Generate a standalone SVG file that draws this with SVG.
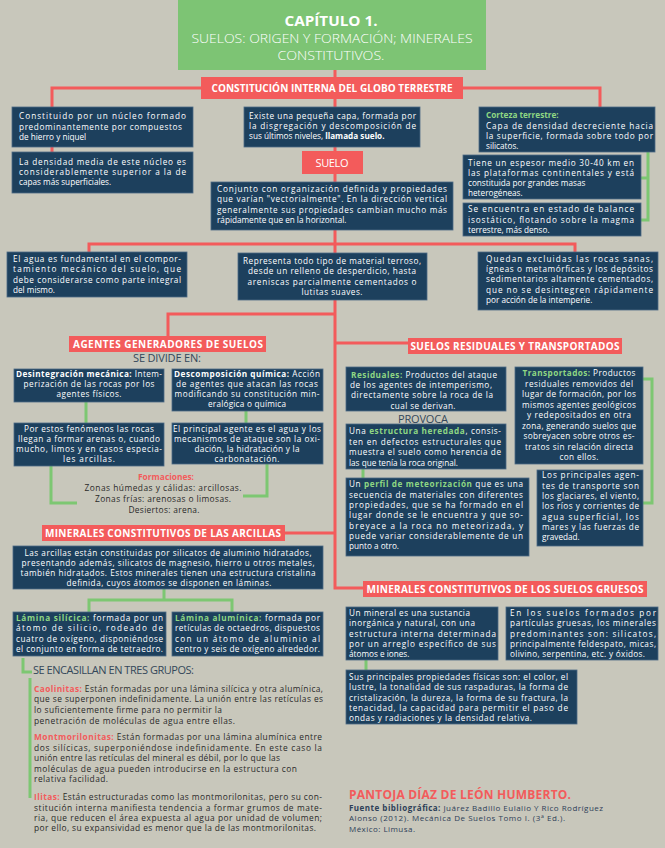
<svg xmlns="http://www.w3.org/2000/svg" width="665" height="848" viewBox="0 0 665 848">
<style>
.nb{fill:#1d405d;stroke:#4d6a85;stroke-width:0.8}
.rb{fill:#f35b5b}
.rl{fill:none;stroke:#f35b5b;stroke-width:3}
.gl{fill:none;stroke:#7dc772;stroke-width:3}
text{font-family:"Open Sans","Noto Sans","Liberation Sans",sans-serif}
.t{font-size:8.2px;fill:#ffffff}
.c{text-anchor:middle}
.b{font-weight:700}
.g{font-weight:700;fill:#8fd783}
.h{font-size:10px;font-weight:700;fill:#ffffff;text-anchor:middle}
.sub{font-size:11px;fill:#34475a;text-anchor:middle}
.dk{font-size:8.4px;fill:#2a2a2a}
.rd{font-weight:700;fill:#f35b5b}
.tt{fill:#ffffff;text-anchor:middle}
</style>
<rect x="0" y="0" width="665" height="848" fill="#c8c7bb"/>

<g id="connectors">
<path class="rl" d="M335,70 V588 H363"/>
<path class="rl" d="M52,152 V88 H600 V108"/>
<path class="rl" d="M89,252 V244 H575 V252"/>
<path class="rl" d="M168,336 V314 H335"/>
<path class="rl" d="M335,343 H408"/>
<path class="rl" d="M285,533 H335"/>
<path class="gl" d="M641,178 H648 M648,152 V220 H641"/>
<path class="gl" d="M86,402 V423"/>
<path class="gl" d="M246,411 V423"/>
<path class="gl" d="M51,466 V503 H77"/>
<path class="gl" d="M267,464 V496 H243"/>
<path class="gl" d="M164,589 V600 M89,612 V600 H232 V612"/>
<path class="gl" d="M23,658 V672 H32"/>
<path class="gl" d="M30,678 V798"/>
<path class="gl" d="M363,469 V478"/>
<path class="gl" d="M643,379 H652 V503 H643"/>
<path class="gl" d="M366,660 V670"/>
</g>

<g id="title">
<rect x="178" y="0" width="308" height="70" fill="#7dc474"/>
<text class="tt" x="331" y="26" font-size="14" font-weight="700" textLength="93" lengthAdjust="spacingAndGlyphs">CAPÍTULO 1.</text>
<text class="tt" x="332" y="43" font-size="12.5" font-weight="300" textLength="281" lengthAdjust="spacingAndGlyphs">SUELOS: ORIGEN Y FORMACIÓN; MINERALES</text>
<text class="tt" x="331" y="60" font-size="12.5" font-weight="300" textLength="107" lengthAdjust="spacingAndGlyphs">CONSTITUTIVOS.</text>
</g>

<g id="constitucion">
<rect class="rb" x="201" y="77" width="262" height="22"/>
<text class="h" x="332" y="92" textLength="241">CONSTITUCIÓN INTERNA DEL GLOBO TERRESTRE</text>
</g>

<g id="nucleo1">
<rect class="nb" x="12" y="107" width="181" height="40"/>
<text class="t" x="19" y="119" textLength="167">Constituido por un núcleo formado</text>
<text class="t" x="19" y="130" textLength="163">predominantemente por compuestos</text>
<text class="t" x="19" y="140">de hierro y niquel</text>
</g>
<g id="nucleo2">
<rect class="nb" x="12" y="152" width="181" height="41"/>
<text class="t" x="19" y="165" textLength="167">La densidad media de este núcleo es</text>
<text class="t" x="19" y="175" textLength="167">considerablemente superior a la de</text>
<text class="t" x="19" y="185">capas más superficiales.</text>
</g>

<g id="capa">
<rect class="nb" x="244" y="107" width="176" height="40"/>
<text class="t" x="249" y="119" textLength="167">Existe una pequeña capa, formada por</text>
<text class="t" x="249" y="129" textLength="167">la disgregación y descomposición de</text>
<text class="t" x="249" y="139">sus últimos niveles, <tspan class="b">llamada suelo.</tspan></text>
</g>

<g id="suelo">
<rect class="rb" x="302" y="151" width="61" height="23"/>
<text x="332" y="167" text-anchor="middle" font-size="11" fill="#fff" textLength="33">SUELO</text>
</g>

<g id="conjunto">
<rect class="nb" x="211" y="182" width="242" height="48"/>
<text class="t" x="217" y="192" textLength="230">Conjunto con organización definida y propiedades</text>
<text class="t" x="217" y="202" textLength="230">que varían "vectorialmente". En la dirección vertical</text>
<text class="t" x="217" y="213" textLength="230">generalmente sus propiedades cambian mucho más</text>
<text class="t" x="217" y="223">rápidamente que en la horizontal.</text>
</g>

<g id="corteza">
<rect class="nb" x="479" y="107" width="176" height="45"/>
<text class="t g" x="486" y="118">Corteza terrestre:</text>
<text class="t" x="486" y="129" textLength="167">Capa de densidad decreciente hacia</text>
<text class="t" x="486" y="139" textLength="167">la superficie, formada sobre todo por</text>
<text class="t" x="486" y="149">silicatos.</text>
</g>
<g id="espesor">
<rect class="nb" x="463" y="155" width="178" height="44"/>
<text class="t" x="468" y="166" textLength="166">Tiene un espesor medio 30-40 km en</text>
<text class="t" x="468" y="176" textLength="166">las plataformas continentales y está</text>
<text class="t" x="468" y="186">constituida por grandes masas</text>
<text class="t" x="468" y="196">heterogéneas.</text>
</g>
<g id="balance">
<rect class="nb" x="463" y="203" width="178" height="33"/>
<text class="t" x="468" y="212" textLength="166">Se encuentra en estado de balance</text>
<text class="t" x="468" y="223" textLength="166">isostático, flotando sobre la magma</text>
<text class="t" x="468" y="233">terrestre, más denso.</text>
</g>

<g id="agua">
<rect class="nb" x="7" y="252" width="180" height="45"/>
<text class="t" x="13" y="262" textLength="168">El agua es fundamental en el compor-</text>
<text class="t" x="13" y="272" textLength="168">tamiento mecánico del suelo, que</text>
<text class="t" x="13" y="283" textLength="168">debe considerarse como parte integral</text>
<text class="t" x="13" y="293">del mismo.</text>
</g>
<g id="representa">
<rect class="nb" x="238" y="253" width="189" height="47"/>
<text class="t c" x="332" y="264" textLength="178">Representa todo tipo de material terroso,</text>
<text class="t c" x="332" y="274" textLength="168">desde un relleno de desperdicio, hasta</text>
<text class="t c" x="332" y="285" textLength="169">areniscas parcialmente cementados o</text>
<text class="t c" x="332" y="295" textLength="61">lutitas suaves.</text>
</g>
<g id="excluidas">
<rect class="nb" x="478" y="252" width="180" height="58"/>
<text class="t" x="486" y="262" textLength="167">Quedan excluidas las rocas sanas,</text>
<text class="t" x="486" y="272" textLength="167">ígneas o metamórficas y los depósitos</text>
<text class="t" x="486" y="282" textLength="167">sedimentarios altamente cementados,</text>
<text class="t" x="486" y="293" textLength="167">que no se desintegren rápidamente</text>
<text class="t" x="486" y="303">por acción de la intemperie.</text>
</g>

<g id="agentes">
<rect class="rb" x="69" y="336" width="197" height="16"/>
<text class="h" x="168" y="348" textLength="190">AGENTES GENERADORES DE SUELOS</text>
<text class="sub" x="167" y="362" textLength="68">SE DIVIDE EN:</text>
</g>
<g id="desintegracion">
<rect class="nb" x="14" y="369" width="150" height="33"/>
<text class="t c" x="89" y="377" textLength="146"><tspan class="b">Desintegración mecánica:</tspan> Intem-</text>
<text class="t c" x="89" y="387" textLength="131">perización de las rocas por los</text>
<text class="t c" x="89" y="397" textLength="65">agentes físicos.</text>
</g>
<g id="descomposicion">
<rect class="nb" x="172" y="369" width="151" height="42"/>
<text class="t c" x="247" y="377" textLength="146"><tspan class="b">Descomposición química:</tspan> Acción</text>
<text class="t c" x="247" y="387" textLength="142">de agentes que atacan las rocas</text>
<text class="t c" x="247" y="397" textLength="145">modificando su constitución min-</text>
<text class="t c" x="247" y="407" textLength="78">eralógica o química</text>
</g>
<g id="fenomenos">
<rect class="nb" x="14" y="423" width="150" height="43"/>
<text class="t c" x="89" y="432" textLength="130">Por estos fenómenos las rocas</text>
<text class="t c" x="89" y="442" textLength="142">llegan a formar arenas o, cuando</text>
<text class="t c" x="89" y="452" textLength="146">mucho, limos y en casos especia-</text>
<text class="t c" x="89" y="462" textLength="52">les arcillas.</text>
</g>
<g id="principal">
<rect class="nb" x="172" y="423" width="151" height="41"/>
<text class="t c" x="247" y="432" textLength="148">El principal agente es el agua y los</text>
<text class="t c" x="247" y="442" textLength="146">mecanismos de ataque son la oxi-</text>
<text class="t c" x="247" y="452" textLength="105">dación, la hidratación y la</text>
<text class="t c" x="247" y="462" textLength="65">carbonatación.</text>
</g>
<g id="formaciones">
<text class="dk rd" x="166" y="480" text-anchor="middle" textLength="56">Formaciones:</text>
<text class="dk" x="163" y="491" text-anchor="middle" textLength="157">Zonas húmedas y cálidas: arcillosas.</text>
<text class="dk" x="163" y="502" text-anchor="middle" textLength="136">Zonas frías: arenosas o limosas.</text>
<text class="dk" x="164" y="513" text-anchor="middle" textLength="71">Desiertos: arena.</text>
</g>

<g id="arcillas">
<rect class="rb" x="42" y="525" width="243" height="16"/>
<text class="h" x="163" y="537" textLength="236">MINERALES CONSTITUTIVOS DE LAS ARCILLAS</text>
</g>
<g id="arcillas-desc">
<rect class="nb" x="13" y="546" width="310" height="43"/>
<text class="t c" x="168" y="556" textLength="287">Las arcillas están constituidas por silicatos de aluminio hidratados,</text>
<text class="t c" x="168" y="566" textLength="293">presentando además, silicatos de magnesio, hierro u otros metales,</text>
<text class="t c" x="168" y="576" textLength="295">también hidratados. Estos minerales tienen una estructura cristalina</text>
<text class="t c" x="169" y="586" textLength="205">definida, cuyos átomos se disponen en láminas.</text>
</g>
<g id="silicica">
<rect class="nb" x="13" y="612" width="153" height="44"/>
<text class="t" x="16" y="621" textLength="147"><tspan class="g">Lámina silícica:</tspan> formada por un</text>
<text class="t" x="16" y="631" textLength="147">átomo de silicio, rodeado de</text>
<text class="t" x="16" y="642" textLength="147">cuatro de oxígeno, disponiéndose</text>
<text class="t" x="16" y="652" textLength="147">el conjunto en forma de tetraedro.</text>
</g>
<g id="aluminica">
<rect class="nb" x="172" y="612" width="151" height="44"/>
<text class="t" x="175" y="621" textLength="145"><tspan class="g">Lámina alumínica:</tspan> formada por</text>
<text class="t" x="175" y="631" textLength="145">retículas de octaedros, dispuestos</text>
<text class="t" x="175" y="642" textLength="145">con un átomo de aluminio al</text>
<text class="t" x="175" y="652" textLength="145">centro y seis de oxígeno alrededor.</text>
</g>
<g id="grupos">
<text class="sub" x="33" y="674" style="text-anchor:start" textLength="161">SE ENCASILLAN EN TRES GRUPOS:</text>
</g>
<g id="caolinitas">
<text class="dk" x="34" y="692" textLength="289"><tspan class="rd">Caolinitas:</tspan> Están formadas por una lámina silícica y otra alumínica,</text>
<text class="dk" x="34" y="702" textLength="289">que se superponen indefinidamente. La unión entre las retículas es</text>
<text class="dk" x="34" y="713" textLength="188">lo suficientemente firme para no permitir la</text>
<text class="dk" x="34" y="724" textLength="201">penetración de moléculas de agua entre ellas.</text>
</g>
<g id="montmorilonitas">
<text class="dk" x="34" y="740" textLength="288"><tspan class="rd">Montmorilonitas:</tspan> Están formadas por una lámina alumínica entre</text>
<text class="dk" x="34" y="751" textLength="288">dos silícicas, superponiéndose indefinidamente. En este caso la</text>
<text class="dk" x="34" y="761" textLength="246">unión entre las retículas del mineral es débil, por lo que las</text>
<text class="dk" x="34" y="772" textLength="263">moléculas de agua pueden introducirse en la estructura con</text>
<text class="dk" x="34" y="782" textLength="74">relativa facilidad.</text>
</g>
<g id="ilitas">
<text class="dk" x="34" y="800" textLength="288"><tspan class="rd">Ilitas:</tspan> Están estructuradas como las montmorilonitas, pero su con-</text>
<text class="dk" x="34" y="811" textLength="288">stitución interna manifiesta tendencia a formar grumos de mate-</text>
<text class="dk" x="34" y="821" textLength="288">ria, que reducen el área expuesta al agua por unidad de volumen;</text>
<text class="dk" x="34" y="831" textLength="282">por ello, su expansividad es menor que la de las montmorilonitas.</text>
</g>

<g id="residuales-header">
<rect class="rb" x="408" y="338" width="214" height="16"/>
<text class="h" x="515" y="350" textLength="209">SUELOS RESIDUALES Y TRANSPORTADOS</text>
</g>
<g id="residuales">
<rect class="nb" x="346" y="367" width="160" height="44"/>
<text class="t c" x="424" y="378" textLength="146"><tspan class="g">Residuales:</tspan> Productos del ataque</text>
<text class="t c" x="421" y="388" textLength="142">de los agentes de intemperismo,</text>
<text class="t c" x="422" y="398" textLength="142">directamente sobre la roca de la</text>
<text class="t c" x="423" y="409" textLength="65">cual se derivan.</text>
</g>
<text class="sub" x="423" y="423" textLength="50">PROVOCA</text>
<g id="heredada">
<rect class="nb" x="346" y="424" width="160" height="45"/>
<text class="t" x="349" y="434" textLength="152">Una <tspan class="g">estructura heredada</tspan>, consis-</text>
<text class="t" x="349" y="445" textLength="152">ten en defectos estructurales que</text>
<text class="t" x="349" y="455" textLength="152">muestra el suelo como herencia de</text>
<text class="t" x="349" y="466">las que tenía la roca original.</text>
</g>
<g id="perfil">
<rect class="nb" x="346" y="478" width="183" height="78"/>
<text class="t" x="349" y="487" textLength="174">Un <tspan class="g">perfil de meteorización</tspan> que es una</text>
<text class="t" x="349" y="497.5" textLength="174">secuencia de materiales con diferentes</text>
<text class="t" x="349" y="508" textLength="174">propiedades, que se ha formado en el</text>
<text class="t" x="349" y="518" textLength="174">lugar donde se le encuentra y que so-</text>
<text class="t" x="349" y="528.5" textLength="174">breyace a la roca no meteorizada, y</text>
<text class="t" x="349" y="539" textLength="174">puede variar considerablemente de un</text>
<text class="t" x="349" y="549">punto a otro.</text>
</g>
<g id="transportados">
<rect class="nb" x="515" y="367" width="128" height="97"/>
<text class="t c" x="579" y="376" textLength="113"><tspan class="g">Transportados:</tspan> Productos</text>
<text class="t c" x="579" y="386.5" textLength="108">residuales removidos del</text>
<text class="t c" x="579" y="397" textLength="114">lugar de formación, por los</text>
<text class="t c" x="579" y="407.5" textLength="114">mismos agentes geológicos</text>
<text class="t c" x="579" y="418" textLength="104">y redepositados en otra</text>
<text class="t c" x="579" y="428.5" textLength="114">zona, generando suelos que</text>
<text class="t c" x="579" y="439" textLength="111">sobreyacen sobre otros es-</text>
<text class="t c" x="579" y="449.5" textLength="108">tratos sin relación directa</text>
<text class="t c" x="579" y="460" textLength="39">con ellos.</text>
</g>
<g id="agentes-transporte">
<rect class="nb" x="537" y="470" width="106" height="76"/>
<text class="t" x="542" y="478" textLength="97">Los principales agen-</text>
<text class="t" x="542" y="488.5" textLength="97">tes de transporte son</text>
<text class="t" x="542" y="499" textLength="97">los glaciares, el viento,</text>
<text class="t" x="542" y="509" textLength="97">los ríos y corrientes de</text>
<text class="t" x="542" y="519.5" textLength="97">agua superficial, los</text>
<text class="t" x="542" y="530" textLength="97">mares y las fuerzas de</text>
<text class="t" x="542" y="540">gravedad.</text>
</g>

<g id="gruesos-header">
<rect class="rb" x="363" y="581" width="284" height="16"/>
<text class="h" x="505" y="593" textLength="277">MINERALES CONSTITUTIVOS DE LOS SUELOS GRUESOS</text>
</g>
<g id="mineral">
<rect class="nb" x="346" y="607" width="152" height="53"/>
<text class="t" x="349" y="616" textLength="121">Un mineral es una sustancia</text>
<text class="t" x="349" y="626" textLength="126">inorgánica y natural, con una</text>
<text class="t" x="349" y="636.5" textLength="147">estructura interna determinada</text>
<text class="t" x="349" y="647" textLength="147">por un arreglo específico de sus</text>
<text class="t" x="349" y="657">átomos e iones.</text>
</g>
<g id="gruesas">
<rect class="nb" x="506" y="607" width="152" height="53"/>
<text class="t" x="510" y="616" textLength="146">En los suelos formados por</text>
<text class="t" x="510" y="626" textLength="146">partículas gruesas, los minerales</text>
<text class="t" x="510" y="636.5" textLength="146">predominantes son: silicatos,</text>
<text class="t" x="510" y="647" textLength="146">principalmente feldespato, micas,</text>
<text class="t" x="510" y="657" textLength="135">olivino, serpentina, etc. y óxidos.</text>
</g>
<g id="propiedades">
<rect class="nb" x="346" y="670" width="231" height="54"/>
<text class="t" x="349" y="680" textLength="219">Sus principales propiedades físicas son: el color, el</text>
<text class="t" x="349" y="690" textLength="219">lustre, la tonalidad de sus raspaduras, la forma de</text>
<text class="t" x="349" y="700.5" textLength="219">cristalización, la dureza, la forma de su fractura, la</text>
<text class="t" x="349" y="711" textLength="219">tenacidad, la capacidad para permitir el paso de</text>
<text class="t" x="349" y="721" textLength="183">ondas y radiaciones y la densidad relativa.</text>
</g>

<g id="autor">
<text x="349" y="799" font-size="12" font-weight="700" fill="#f35b5b" textLength="222">PANTOJA DÍAZ DE LEÓN HUMBERTO.</text>
<text x="349" y="811" font-size="8" fill="#2e4058" textLength="254"><tspan font-weight="700">Fuente bibliográfica:</tspan> Juárez Badillo Eulalio Y Rico Rodríguez</text>
<text x="349" y="821" font-size="8" fill="#2e4058" textLength="216">Alonso (2012). Mecánica De Suelos Tomo I. (3ª Ed.).</text>
<text x="349" y="832" font-size="8" fill="#2e4058" textLength="66">México: Limusa.</text>
</g>
</svg>
